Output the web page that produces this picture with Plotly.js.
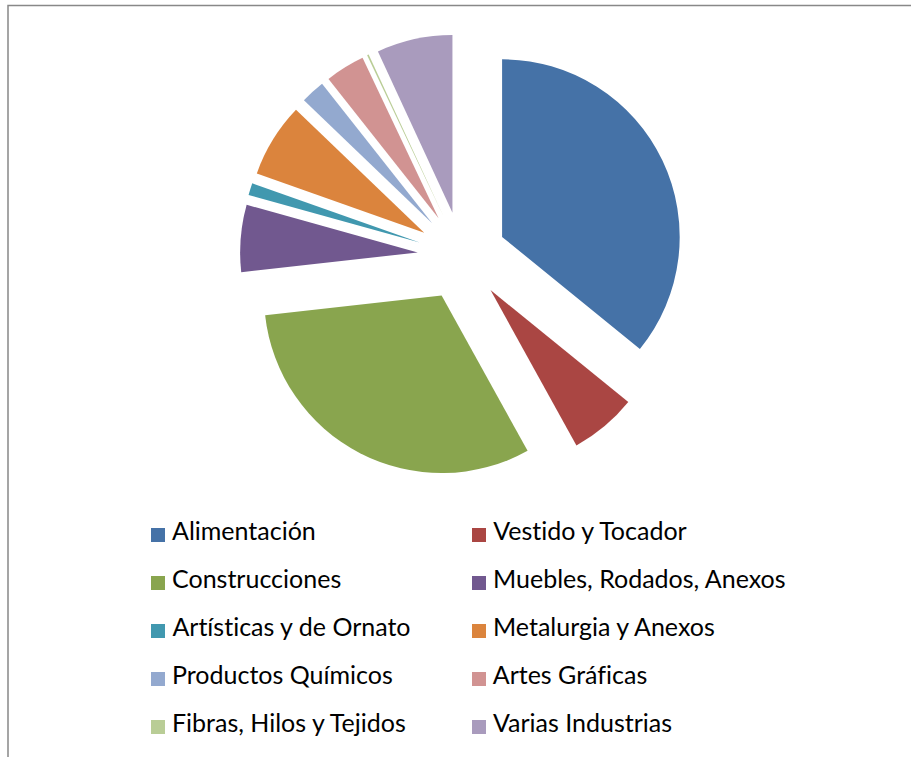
<!DOCTYPE html>
<html>
<head>
<meta charset="utf-8">
<script src="https://cdn.plot.ly/plotly-3.0.1.min.js"></script>
<style>
  body { margin: 0; background: #fff; }
  #chart { width: 911px; height: 757px; }
  #chart svg text, #chart svg tspan {
    font-variant-ligatures: none !important;
    font-feature-settings: "liga" 0, "clig" 0, "dlig" 0 !important;
  }
</style>
</head>
<body>
<div id="chart"></div>
<script>
// Data (share of establishments, %)
const labels = [
  'Alimentación', 'Vestido y Tocador',
  'Construcciones', 'Muebles, Rodados, Anexos',
  'Artísticas y de Ornato', 'Metalurgia y Anexos',
  'Productos Químicos', 'Artes Gráficas',
  'Fibras, Hilos y Tejidos', 'Varias Industrias'
];
const values = [35.9, 6.1, 31.3, 6.1, 1.1, 6.75, 2.2, 3.6, 0.15, 6.9];
const colors = [
  '#4572A7', '#AA4643', '#89A54E', '#71588F', '#4198AF',
  '#DB843D', '#93A9CF', '#D19392', '#B9CD96', '#A99BBD'
];

const W = 911, H = 757;
const PULL = 0.25;
const px = x => x / W;
const py = y => 1 - y / H;

// Pie trace, exploded slices, clockwise from 12 o'clock
const pieData = [{
  type: 'pie',
  labels: labels,
  values: values,
  sort: false,
  direction: 'clockwise',
  rotation: 0,
  pull: labels.map(() => PULL),
  marker: { colors: colors, line: { width: 0 } },
  textinfo: 'none',
  hoverinfo: 'label+percent',
  showlegend: false,
  domain: { x: [px(240), px(684)], y: [py(478), py(34)] }
}];

// Legend drawn as two columns of swatches and labels
const legendShapes = [];
const legendNotes = [];
labels.forEach(function(name, i) {
  const col = i % 2;
  const row = Math.floor(i / 2);
  const sx = col === 0 ? 151 : 472;
  const cy = 535 + row * 48;
  legendShapes.push({
    type: 'rect', xref: 'paper', yref: 'paper',
    x0: px(sx), x1: px(sx + 14), y0: py(cy + 7), y1: py(cy - 7),
    fillcolor: colors[i], line: { width: 0 }
  });
  legendNotes.push({
    xref: 'paper', yref: 'paper',
    x: px(sx + 19), y: py(cy - 5),
    xanchor: 'left', yanchor: 'middle',
    text: name, showarrow: false,
    font: { family: 'Lato, sans-serif', size: 25, color: '#000' }
  });
});

// Chart frame (only top and left edges visible)
const frame = {
  type: 'rect', xref: 'paper', yref: 'paper',
  x0: px(8), x1: px(W + 20), y0: py(H + 20), y1: py(5.5),
  line: { color: '#888888', width: 1.5 }, fillcolor: 'rgba(0,0,0,0)'
};

const layout = {
  width: W,
  height: H,
  margin: { l: 0, r: 0, t: 0, b: 0 },
  paper_bgcolor: '#ffffff',
  showlegend: false,
  shapes: [frame].concat(legendShapes),
  annotations: legendNotes
};

Plotly.newPlot('chart', pieData, layout, { displayModeBar: false, staticPlot: true });
</script>
</body>
</html>
